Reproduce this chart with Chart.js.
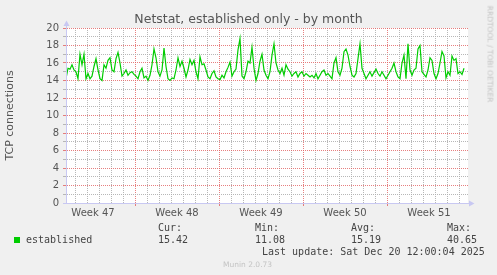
<!DOCTYPE html>
<html>
<head>
<meta charset="utf-8">
<title>Netstat, established only - by month</title>
<script src="https://cdn.jsdelivr.net/npm/chart.js@4.4.1/dist/chart.umd.min.js"></script>
<style>
  html, body { margin: 0; padding: 0; background: #f0f0f0; }
  #wrap { position: relative; width: 497px; height: 275px; overflow: hidden; }
  #chart { position: absolute; left: 0; top: 0; }
  .mono { position: absolute; white-space: pre; font: 10px 'DejaVu Sans Mono', monospace; line-height: 12px; color: #444; }
  .swatch { position: absolute; width: 6px; height: 6px; }
  #credit { position: absolute; white-space: nowrap; font: 7.5px 'DejaVu Sans', sans-serif; line-height: 9px; color: #c4c4c4; }
  #rrd { position: absolute; white-space: nowrap; font: 7.5px 'DejaVu Sans', sans-serif; line-height: 9px; color: #c4c4c4;
         transform: translate(-50%, -50%) rotate(90deg); }
</style>
</head>
<body>
<div id="wrap">
  <canvas id="chart" width="497" height="275"></canvas>
</div>
<script>
// x axis: one label per week, centred on the week
const weekLabels = ['Week 47', 'Week 48', 'Week 49', 'Week 50', 'Week 51'];
// y axis tick labels (every 2 connections)
const yTickLabels = ['0', '2', '4', '6', '8', '10', '12', '14', '16', '18', '20'];

// samples every 4 hours, in days relative to the start of week 48
const startDay = -5.75;
const stepDay = 1 / 6;

// established TCP connections
const established = [
  14.2, 15.4, 15.3, 15.8, 15.2, 15.0, 14.2, 17.0, 15.8, 17.0,
  14.2, 14.8, 14.2, 14.5, 15.6, 16.5, 15.2, 14.2, 14.0, 15.8,
  15.4, 16.3, 16.6, 15.2, 15.0, 16.5, 17.2, 16.0, 14.5, 14.8,
  15.2, 14.6, 14.9, 15.0, 14.7, 14.5, 14.2, 15.0, 15.4, 14.3,
  14.5, 14.0, 14.6, 15.8, 17.6, 16.6, 15.0, 14.5, 15.2, 17.7,
  15.6, 14.2, 14.0,
  14.3, 14.2, 15.2, 16.6, 15.6, 16.2, 15.4, 14.4, 15.2, 16.4,
  15.8, 16.3, 15.0, 14.2, 16.7, 15.8, 15.9, 15.2, 14.4, 14.2,
  14.8, 15.1, 14.4, 14.2, 14.1, 14.6, 14.3, 15.0, 15.5, 16.1,
  14.5, 15.0, 15.3, 17.5, 18.8,
  14.5, 14.2, 15.0, 16.2, 16.0, 17.8, 15.4, 14.0, 14.8, 16.2,
  17.0, 15.2, 14.6, 14.2, 15.0, 16.9, 18.2, 16.0, 15.2, 14.8,
  15.4, 14.6, 15.8, 15.3, 15.0, 14.5, 14.8, 15.0, 14.4, 14.8,
  15.0, 14.5, 14.8, 14.6, 14.4,
  14.6, 14.3, 14.8, 14.2, 14.6, 15.0, 15.2, 14.6, 14.8, 14.5,
  14.2, 16.0, 16.6, 15.0, 14.6, 15.4, 17.3, 17.6, 16.9, 15.6,
  14.6, 14.4, 14.8, 16.5, 18.2, 15.4, 14.8, 14.2, 14.6, 15.0,
  14.5, 14.9, 15.3, 14.8, 14.5, 15.0, 14.6, 14.2, 14.6, 15.0,
  15.4, 16.0,
  15.0, 14.4, 14.2, 16.0, 16.9, 14.2, 18.2, 15.2, 14.6, 15.2,
  15.4, 17.6, 18.0, 15.0, 14.7, 14.4, 15.2, 16.6, 16.3, 14.8,
  14.2, 14.8, 16.0, 17.3, 16.8, 14.3, 15.0, 14.6, 16.8, 16.3,
  16.5, 14.8, 15.0, 14.7, 15.4
];

// legend block under the graph
const seriesName = 'established';
const statLabels = ['Cur:', 'Min:', 'Avg:', 'Max:'];
const statValues = ['15.42', '11.08', '15.19', '40.65'];
const lastUpdate = 'Last update: Sat Dec 20 12:00:04 2025';
const creditText = 'Munin 2.0.73';
const rrdText = 'RRDTOOL / TOBI OETIKER';

// colours
const lineColor = '#00cc00';
const axisColor = '#c8c8f2';
const minorGrid = 'rgba(175, 175, 175, 0.9)';
const majorGrid = 'rgba(225, 95, 95, 0.8)';
const textColor = '#555555';

// x ticks: every day for the grid, mid week for the labels
const midWeeks = weekLabels.map((_, k) => (k - 1) * 7 + 3.5);
function buildXTicks(scale) {
  const ticks = [];
  for (let d = -5; d <= 27; d++) ticks.push({ value: d });
  midWeeks.forEach(v => ticks.push({ value: v }));
  ticks.sort((a, b) => a.value - b.value);
  scale.ticks = ticks;
}

// white plot area and the little rrdtool style axis arrows
const plotFrame = {
  id: 'plotFrame',
  beforeDraw(chart) {
    const { ctx, chartArea: a } = chart;
    ctx.save();
    ctx.fillStyle = '#ffffff';
    ctx.fillRect(a.left, a.top, a.right - a.left, a.bottom - a.top);
    ctx.restore();
  },
  afterDraw(chart) {
    const { ctx, chartArea: a } = chart;
    const x0 = Math.round(a.left) + 0.5;
    const y0 = Math.round(a.bottom) + 0.5;
    ctx.save();
    ctx.strokeStyle = axisColor;
    ctx.fillStyle = axisColor;
    ctx.lineWidth = 1;
    ctx.beginPath();
    ctx.moveTo(x0, a.bottom);
    ctx.lineTo(x0, a.top - 3);
    ctx.moveTo(a.left, y0);
    ctx.lineTo(a.right + 2, y0);
    ctx.stroke();
    ctx.beginPath();
    ctx.moveTo(x0 - 3, a.top - 2);
    ctx.lineTo(x0 + 3, a.top - 2);
    ctx.lineTo(x0, a.top - 7.5);
    ctx.closePath();
    ctx.fill();
    ctx.beginPath();
    ctx.moveTo(a.right + 1, y0 - 3);
    ctx.lineTo(a.right + 1, y0 + 3);
    ctx.lineTo(a.right + 6.5, y0);
    ctx.closePath();
    ctx.fill();
    ctx.restore();
  }
};

new Chart(document.getElementById('chart').getContext('2d'), {
  type: 'line',
  data: {
    datasets: [{
      label: seriesName,
      data: established.map((v, i) => ({ x: startDay + i * stepDay, y: v })),
      borderColor: lineColor,
      borderWidth: 1.2,
      pointRadius: 0,
      tension: 0,
      fill: false
    }]
  },
  options: {
    responsive: false,
    animation: false,
    devicePixelRatio: 1,
    layout: { padding: { left: 0, right: 0, top: 0, bottom: 52 } },
    plugins: {
      legend: { display: false },
      tooltip: { enabled: false },
      title: {
        display: true,
        text: 'Netstat, established only - by month',
        color: textColor,
        font: { family: 'DejaVu Sans', size: 12.5, weight: 'normal' },
        padding: { top: 12, bottom: 1 }
      }
    },
    scales: {
      x: {
        type: 'linear',
        min: -5.75,
        max: 27.75,
        afterBuildTicks: buildXTicks,
        afterFit(scale) { scale.height = 20; },
        // grid lines take their dash from border.dash in v4; the axis line is redrawn solid by the plugin
        border: { color: axisColor, dash: [1, 1] },
        grid: {
          tickLength: 3,
          color(ctx) {
            const v = ctx.tick.value;
            if (!Number.isInteger(v)) return 'rgba(0,0,0,0)';
            return v % 7 === 0 ? majorGrid : minorGrid;
          },
          tickColor(ctx) {
            const v = ctx.tick.value;
            return Number.isInteger(v) && v % 7 === 0 ? majorGrid : 'rgba(0,0,0,0)';
          }
        },
        ticks: {
          autoSkip: false,
          maxRotation: 0,
          minRotation: 0,
          padding: 1,
          color: textColor,
          font: { family: 'DejaVu Sans', size: 10 },
          callback(value) {
            const k = midWeeks.indexOf(value);
            return k >= 0 ? weekLabels[k] : '';
          }
        }
      },
      y: {
        min: 0,
        max: 20,
        afterFit(scale) { scale.width = 66; },
        border: { color: axisColor, dash: [1, 1] },
        grid: {
          tickLength: 3,
          color(ctx) {
            const v = ctx.tick.value;
            if (v === 0) return axisColor;
            return v % 2 === 0 ? majorGrid : minorGrid;
          }
        },
        ticks: {
          stepSize: 1,
          autoSkip: false,
          padding: 4,
          color: textColor,
          font: { family: 'DejaVu Sans', size: 10 },
          callback(value) {
            return value % 2 === 0 ? yTickLabels[value / 2] : '';
          }
        },
        title: {
          display: true,
          text: 'TCP connections',
          color: textColor,
          font: { family: 'DejaVu Sans', size: 11, weight: 'normal' },
          padding: { top: 4, bottom: 0 }
        }
      },
      // empty right margin, keeps the title centred on the whole picture
      yRight: {
        position: 'right',
        afterFit(scale) { scale.width = 29; },
        border: { display: false },
        grid: { display: false },
        ticks: { display: false }
      }
    }
  },
  plugins: [plotFrame]
});

// legend and footer text
const wrap = document.getElementById('wrap');
function addText(cls, text, left, top, color) {
  const el = document.createElement('div');
  el.className = cls;
  el.textContent = text;
  el.style.left = left + 'px';
  el.style.top = top + 'px';
  if (color) el.style.color = color;
  wrap.appendChild(el);
  return el;
}
const sw = document.createElement('div');
sw.className = 'swatch';
sw.style.left = '14px';
sw.style.top = '237px';
sw.style.background = lineColor;
wrap.appendChild(sw);
addText('mono', seriesName, 26, 233.5);
const statX = [158, 255, 351, 447];
statLabels.forEach((s, i) => {
  addText('mono', s, statX[i], 221.5);
  addText('mono', statValues[i], statX[i], 233.5);
});
addText('mono', lastUpdate, 262, 245.5);
const credit = addText('', creditText, 223, 259.5);
credit.id = 'credit';
const rrd = addText('', rrdText, 490, 53.5);
rrd.id = 'rrd';
</script>
</body>
</html>
